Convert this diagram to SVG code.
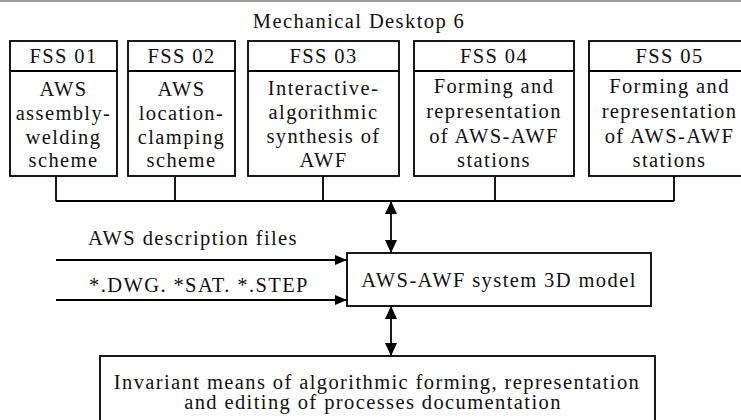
<svg xmlns="http://www.w3.org/2000/svg" width="741" height="420" viewBox="0 0 741 420">
  <style>
    text { font-family: "Liberation Serif", "Times New Roman", serif; font-size: 20.5px; letter-spacing: 1.4px; fill: #111; text-anchor: middle; }
    .box { fill: #fff; stroke: #000; stroke-width: 1.8; }
    .wire { fill: none; stroke: #000; stroke-width: 1.8; }
  </style>
  <defs>
    <marker id="tip" viewBox="0 0 13 12" refX="13" refY="6" markerWidth="13" markerHeight="12" markerUnits="userSpaceOnUse" orient="auto-start-reverse">
      <path d="M0,0 L13,6 L0,12 Z" fill="#000"/>
    </marker>
    <marker id="tip-s" viewBox="0 0 12 10" refX="12" refY="5" markerWidth="12" markerHeight="10" markerUnits="userSpaceOnUse" orient="auto">
      <path d="M0,0 L12,5 L0,10 Z" fill="#000"/>
    </marker>
  </defs>

  <rect width="741" height="420" fill="#fff"/>
  <line x1="0" y1="1" x2="741" y2="1" stroke="#9a9a9a" stroke-width="2"/>

  <text id="title" x="359" y="28">Mechanical Desktop 6</text>

  <g id="connectors">
    <!-- bus joining the five subsystems -->
    <path class="wire" d="M56,176 V201 M175,176 V201 M323,176 V201 M495,176 V201 M674,176 V201 M56,201 H674"/>
    <line class="wire" x1="391" y1="201" x2="391" y2="253" marker-start="url(#tip)" marker-end="url(#tip)"/>
    <line class="wire" x1="391" y1="306" x2="391" y2="356" marker-start="url(#tip)" marker-end="url(#tip)"/>
    <line class="wire" x1="56" y1="260" x2="347" y2="260" marker-end="url(#tip-s)"/>
    <line class="wire" x1="56" y1="300" x2="347" y2="300" marker-end="url(#tip-s)"/>
    <text x="193" y="245">AWS description files</text>
    <text x="199" y="292">*.DWG. *SAT. *.STEP</text>
  </g>

  <g id="fss01">
    <rect class="box" x="10" y="41" width="107" height="135"/>
    <line class="wire" x1="10" y1="71" x2="117" y2="71"/>
    <text x="63.5" y="63">FSS 01</text>
    <text x="63.5" y="96">AWS</text>
    <text x="63.5" y="120">assembly-</text>
    <text x="63.5" y="144">welding</text>
    <text x="63.5" y="167">scheme</text>
  </g>

  <g id="fss02">
    <rect class="box" x="128" y="41" width="107" height="135"/>
    <line class="wire" x1="128" y1="71" x2="235" y2="71"/>
    <text x="181.5" y="63">FSS 02</text>
    <text x="181.5" y="96">AWS</text>
    <text x="181.5" y="120">location-</text>
    <text x="181.5" y="144">clamping</text>
    <text x="181.5" y="167">scheme</text>
  </g>

  <g id="fss03">
    <rect class="box" x="248" y="41" width="151" height="135"/>
    <line class="wire" x1="248" y1="71" x2="399" y2="71"/>
    <text x="323.5" y="63">FSS 03</text>
    <text x="323.5" y="95">Interactive-</text>
    <text x="323.5" y="119">algorithmic</text>
    <text x="323.5" y="143">synthesis of</text>
    <text x="323.5" y="167">AWF</text>
  </g>

  <g id="fss04">
    <rect class="box" x="414" y="41" width="160" height="135"/>
    <line class="wire" x1="414" y1="71" x2="574" y2="71"/>
    <text x="494" y="63">FSS 04</text>
    <text x="494" y="93">Forming and</text>
    <text x="494" y="118">representation</text>
    <text x="494" y="143">of AWS-AWF</text>
    <text x="494" y="167">stations</text>
  </g>

  <g id="fss05">
    <rect class="box" x="589" y="41" width="163" height="135"/>
    <line class="wire" x1="589" y1="71" x2="752" y2="71"/>
    <text x="669.5" y="63">FSS 05</text>
    <text x="669.5" y="93">Forming and</text>
    <text x="669.5" y="118">representation</text>
    <text x="669.5" y="143">of AWS-AWF</text>
    <text x="669.5" y="167">stations</text>
  </g>

  <g id="model">
    <rect class="box" x="347" y="253" width="304" height="53"/>
    <text x="499" y="287">AWS-AWF system 3D model</text>
  </g>

  <g id="invariant">
    <rect class="box" x="100" y="356" width="555" height="70"/>
    <text x="377" y="389">Invariant means of algorithmic forming, representation</text>
    <text x="373" y="409">and editing of processes documentation</text>
  </g>
</svg>
